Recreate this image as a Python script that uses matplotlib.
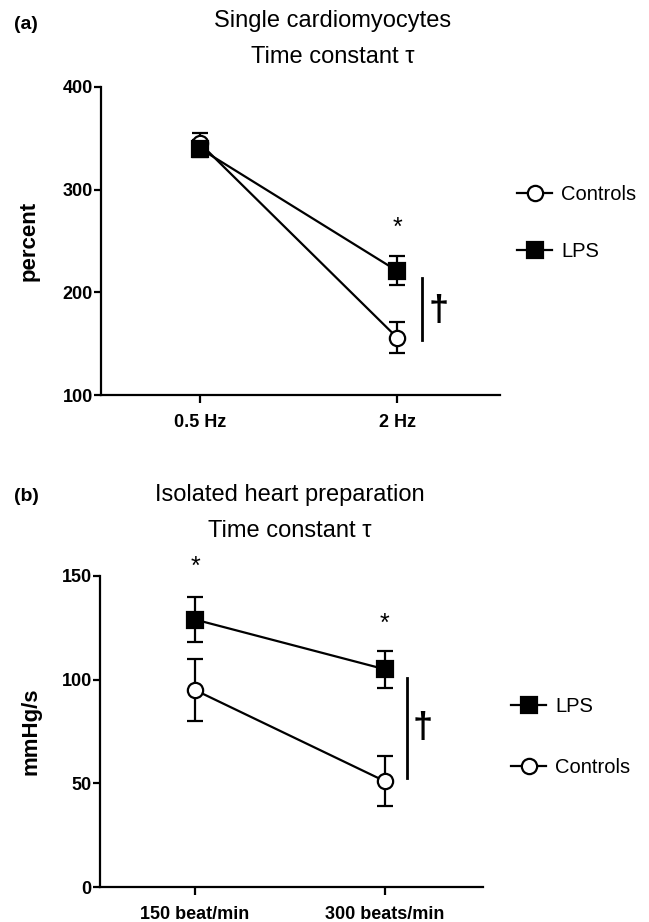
import matplotlib
matplotlib.use("Agg")
import matplotlib.pyplot as plt
import numpy as np

plt.rcParams['font.family'] = ['Liberation Sans', 'DejaVu Sans']

# panel (a) - single cardiomyocytes
freq_labels = ["0.5 Hz", "2 Hz"]
ctrl_a = [345, 156]
ctrl_a_err = [10, 15.5]
lps_a = [340, 221]
lps_a_err = [8, 14]
star_a = [None, 263]

# panel (b) - isolated heart
rate_labels = ["150 beat/min", "300 beats/min"]
lps_b = [129, 105]
lps_b_err = [11, 9]
ctrl_b = [95, 51]
ctrl_b_err = [15, 12]
star_b = [154.5, 127]

W, H = 649, 922
fig = plt.figure(figsize=(W / 100, H / 100), dpi=100)

def px_box(left, top, right, bottom):
    return [left / W, 1 - bottom / H, (right - left) / W, (bottom - top) / H]

def style_axes(ax):
    for s in ["top", "right"]:
        ax.spines[s].set_visible(False)
    for s in ["left", "bottom"]:
        ax.spines[s].set_linewidth(1.6)
    ax.tick_params(axis="y", length=5, width=1.6, pad=1, labelsize=13)
    ax.tick_params(axis="x", length=6, width=1.6, pad=8, labelsize=13)
    for lab in ax.get_xticklabels() + ax.get_yticklabels():
        lab.set_fontweight("bold")

def series(ax, y, err, kind):
    x = np.arange(len(y))
    if kind == "ctrl":
        mk = dict(marker="o", ms=11, mfc="white")
    else:
        mk = dict(marker="s", ms=11, mfc="black")
    eb = ax.errorbar(x, y, yerr=err, color="black", lw=1.6, elinewidth=1.6,
                     capsize=6, capthick=1.6, mec="black", mew=1.6,
                     clip_on=False, zorder=3, **mk)
    for a in eb[1] + eb[2]:
        a.set_clip_on(False)
    return eb[0]

# ---- (a)
ax1 = fig.add_axes(px_box(101, 87, 500, 395))
l_ctrl = series(ax1, ctrl_a, ctrl_a_err, "ctrl")
l_lps = series(ax1, lps_a, lps_a_err, "lps")
ax1.set_xlim(-0.503, 1.523)
ax1.set_ylim(100, 400)
ax1.set_yticks([100, 200, 300, 400])
ax1.set_xticks([0, 1])
ax1.set_xticklabels(freq_labels)
style_axes(ax1)
ax1.set_ylabel("percent", fontsize=16, fontweight="bold")
ax1.yaxis.set_label_coords(-0.155, 0.5)
for i, s in enumerate(star_a):
    if s is not None:
        ax1.text(i, s, "*", fontsize=18, ha="center", va="center")
ax1.plot([1.127, 1.127], [153.6, 214], color="black", lw=2, clip_on=False)
ax1.text(1.213, 181, "\u2020", fontsize=26, fontweight="bold", ha="center", va="center")
fig.legend(handles=[l_ctrl, l_lps], labels=["Controls", "LPS"],
           loc="center left", bbox_to_anchor=(517 / W, 1 - 223 / H),
           frameon=False, fontsize=14.5, handlelength=1.75, handletextpad=0.45,
           labelspacing=1.85, borderpad=0, borderaxespad=0)

fig.text(14 / W, 1 - 29 / H, "(a)", fontsize=14, fontweight="bold", va="baseline")
fig.text(333 / W, 1 - 27 / H, "Single cardiomyocytes", fontsize=17, ha="center", va="baseline")
fig.text(333 / W, 1 - 63 / H, "Time constant \u03c4", fontsize=17, ha="center", va="baseline")

# ---- (b)
ax2 = fig.add_axes(px_box(100, 576, 483, 887))
m_lps = series(ax2, lps_b, lps_b_err, "lps")
m_ctrl = series(ax2, ctrl_b, ctrl_b_err, "ctrl")
ax2.set_xlim(-0.5, 1.516)
ax2.set_ylim(0, 150)
ax2.set_yticks([0, 50, 100, 150])
ax2.set_xticks([0, 1])
ax2.set_xticklabels(rate_labels)
style_axes(ax2)
ax2.set_ylabel("mmHg/s", fontsize=16, fontweight="bold")
ax2.yaxis.set_label_coords(-0.152, 0.5)
for i, s in enumerate(star_b):
    ax2.text(i, s, "*", fontsize=18, ha="center", va="center")
ax2.plot([1.116, 1.116], [52.8, 101], color="black", lw=2, clip_on=False)
ax2.text(1.2, 76.4, "\u2020", fontsize=26, fontweight="bold", ha="center", va="center")
fig.legend(handles=[m_lps, m_ctrl], labels=["LPS", "Controls"],
           loc="center left", bbox_to_anchor=(511 / W, 1 - 737 / H),
           frameon=False, fontsize=14.5, handlelength=1.75, handletextpad=0.45,
           labelspacing=2.05, borderpad=0, borderaxespad=0)

fig.text(14 / W, 1 - 501 / H, "(b)", fontsize=14, fontweight="bold", va="baseline")
fig.text(290 / W, 1 - 501 / H, "Isolated heart preparation", fontsize=17, ha="center", va="baseline")
fig.text(290 / W, 1 - 537 / H, "Time constant \u03c4", fontsize=17, ha="center", va="baseline")

fig.savefig("out.png", dpi=100)
